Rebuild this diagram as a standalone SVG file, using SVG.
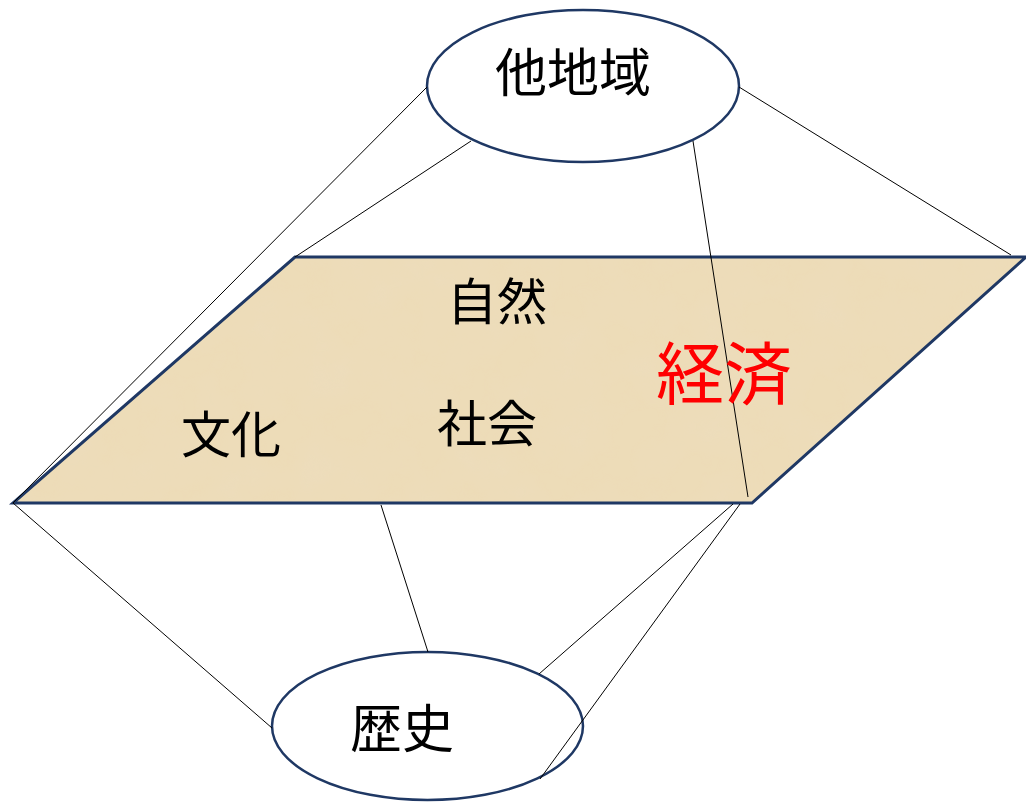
<svg xmlns="http://www.w3.org/2000/svg" width="1026" height="803" viewBox="0 0 1026 803">
<style>
.node{fill:#ffffff;stroke:#1f3864;stroke-width:2.5}
.link{stroke:#000000;stroke-width:1;fill:none}
.t{font-family:"Noto Sans CJK JP","Noto Sans CJK SC",sans-serif;text-anchor:middle;fill:#000000}
</style>
<defs>
<filter id="paper" x="0" y="0" width="100%" height="100%">
<feTurbulence type="fractalNoise" baseFrequency="0.02" numOctaves="4" seed="7" result="n"/>
<feColorMatrix in="n" type="matrix" values="0 0 0 0 0.84  0 0 0 0 0.72  0 0 0 0 0.50  0 0 0 1.6 -0.55" result="c"/>
<feComposite in="c" in2="SourceGraphic" operator="in" result="tex"/>
<feMerge><feMergeNode in="SourceGraphic"/><feMergeNode in="tex"/></feMerge>
</filter>
</defs>
<rect width="1026" height="803" fill="#ffffff"/>
<g id="plane">
<polygon points="295,257 1026,257 752,503 13,503" fill="#eddcb8" filter="url(#paper)"/>
<polygon points="295,257 1026,257 752,503 13,503" fill="none" stroke="#1f3864" stroke-width="3" stroke-linejoin="miter"/>
</g>
<g id="other-region">
<ellipse class="node" cx="583" cy="86" rx="156" ry="76"/>
<text class="t" x="573" y="92" font-size="52">他地域</text>
</g>
<g id="history">
<ellipse class="node" cx="427.5" cy="726" rx="155.5" ry="74"/>
<text class="t" x="402" y="748" font-size="52">歴史</text>
</g>
<g id="connectors">
<line class="link" x1="427" y1="87" x2="13" y2="503"/>
<line class="link" x1="471" y1="141" x2="295" y2="257"/>
<line class="link" x1="739" y1="87" x2="1011" y2="255"/>
<line class="link" x1="693" y1="141" x2="748" y2="497"/>
<line class="link" x1="13" y1="503" x2="272" y2="728"/>
<line class="link" x1="381" y1="505" x2="428" y2="652"/>
<line class="link" x1="733" y1="504" x2="539" y2="674"/>
<line class="link" x1="740" y1="504" x2="540" y2="779"/>
</g>
<g id="labels">
<text class="t" x="497" y="320" font-size="50">自然</text>
<text class="t" x="487" y="442" font-size="50">社会</text>
<text class="t" x="231" y="453" font-size="50">文化</text>
<text class="t" x="724" y="399" font-size="68" style="fill:#ff0000">経済</text>
</g>
</svg>
